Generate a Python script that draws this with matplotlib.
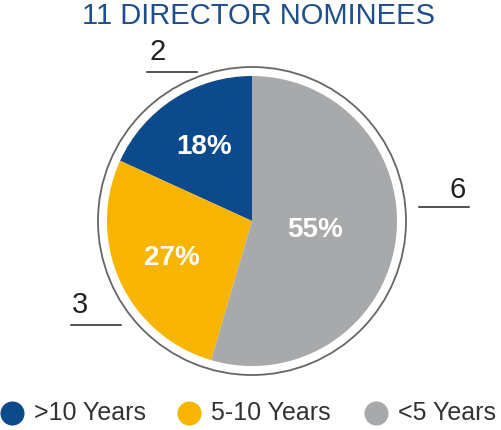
import numpy as np
import matplotlib.pyplot as plt
from matplotlib.patches import Circle

plt.rcParams['font.family'] = ['Liberation Sans', 'DejaVu Sans']

# Data
labels = [">10 Years", "5-10 Years", "<5 Years"]
counts = [2, 3, 6]
colors = ["#0B4A8C", "#F7B500", "#A8A9AA"]
title = "11 DIRECTOR NOMINEES"

W, H = 502, 430
fig = plt.figure(figsize=(W / 100, H / 100), dpi=100)
ax = fig.add_axes([0, 0, 1, 1])

cx, cy, r = 252, 430 - 221, 145

wedges, texts, autotexts = ax.pie(
    counts, colors=colors, startangle=90, counterclock=True,
    center=(cx, cy), radius=r, autopct="%d%%", pctdistance=0.61,
    wedgeprops=dict(linewidth=0), frame=True,
    textprops=dict(color="white", fontsize=20, fontweight="bold"),
)
ax.set_xlim(0, W)
ax.set_ylim(0, H)
ax.set_aspect("equal")
ax.axis("off")

# percentages rounded like the reference
total = sum(counts)
for t, c in zip(autotexts, counts):
    t.set_text(f"{round(100 * c / total)}%")

# move the big slice label closer to centre
w = wedges[2]
mid = np.deg2rad((w.theta1 + w.theta2) / 2)
autotexts[2].set_position((cx + 0.44 * r * np.cos(mid), cy + 0.44 * r * np.sin(mid)))

# outer ring
ax.add_patch(Circle((cx, cy), r + 9, fill=False, edgecolor="#666666", linewidth=1.3))

# count labels with underline
count_pos = {0: (158, 52, 147, 197, 72), 1: (80, 305, 71, 121, 325), 2: (458, 190, 419, 469, 207)}
for i, (tx, ty, x0, x1, ly) in count_pos.items():
    ax.text(tx, H - ty, str(counts[i]), ha="center", va="center", fontsize=21, color="#222222")
    ax.plot([x0, x1], [H - ly, H - ly], color="#222222", linewidth=1.1)

ax.text(259, H - 16, title, ha="center", va="center", fontsize=21, color="#1F4E8C")

# legend row
leg_x = [12, 189, 376]
for x, c, lab in zip(leg_x, colors, labels):
    ax.scatter([x], [H - 413], s=300, color=c, linewidths=0, clip_on=False)
    ax.text(x + 22, H - 413, lab, ha="left", va="center", fontsize=18, color="#333333")

fig.savefig("out.png", dpi=100)
